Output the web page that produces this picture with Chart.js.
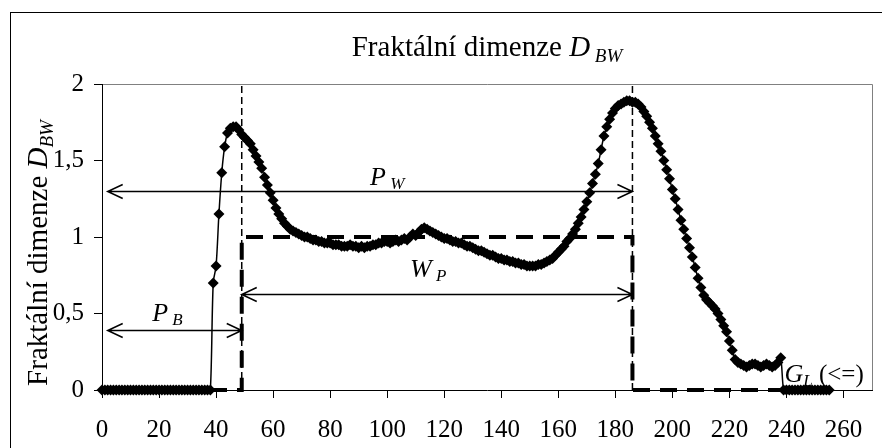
<!DOCTYPE html>
<html>
<head>
<meta charset="utf-8">
<script src="https://cdn.jsdelivr.net/npm/chart.js@4.4.0/dist/chart.umd.min.js"></script>
<style>
    html, body { margin: 0; padding: 0; background: #fff; }
    #wrap { width: 882px; height: 448px; position: relative; }
</style>
</head>
<body>
<div id="wrap"><canvas id="fdChart" width="882" height="448"></canvas></div>
<script>
// Fractal dimension D_BW for each grey level 0..255 (index = grey level)
const dbw = [
    0, 0, 0, 0, 0, 0, 0, 0, 0, 0,
    0, 0, 0, 0, 0, 0, 0, 0, 0, 0,
    0, 0, 0, 0, 0, 0, 0, 0, 0, 0,
    0, 0, 0, 0, 0, 0, 0, 0, 0, 0.70,
    0.81, 1.15, 1.42, 1.59, 1.68, 1.71, 1.72, 1.72, 1.70, 1.67,
    1.65, 1.63, 1.61, 1.57, 1.53, 1.49, 1.45, 1.39, 1.34, 1.29,
    1.24, 1.19, 1.15, 1.12, 1.09, 1.07, 1.05, 1.04, 1.03, 1.02,
    1.01, 1.00, 1.00, 0.99, 0.98, 0.98, 0.97, 0.97, 0.96, 0.96,
    0.96, 0.95, 0.95, 0.95, 0.94, 0.94, 0.94, 0.95, 0.94, 0.94,
    0.93, 0.94, 0.93, 0.94, 0.94, 0.95, 0.95, 0.96, 0.96, 0.97,
    0.97, 0.96, 0.97, 0.98, 0.97, 0.98, 0.99, 0.98, 1.00, 1.02,
    1.01, 1.03, 1.05, 1.06, 1.05, 1.04, 1.03, 1.02, 1.01, 1.00,
    0.99, 0.99, 0.98, 0.97, 0.97, 0.96, 0.96, 0.95, 0.94, 0.94,
    0.93, 0.92, 0.91, 0.91, 0.90, 0.89, 0.88, 0.88, 0.87, 0.86,
    0.86, 0.85, 0.85, 0.84, 0.84, 0.83, 0.83, 0.82, 0.82, 0.81,
    0.81, 0.81, 0.81, 0.82, 0.82, 0.83, 0.84, 0.85, 0.86, 0.88,
    0.90, 0.92, 0.94, 0.97, 0.99, 1.02, 1.05, 1.09, 1.13, 1.18,
    1.23, 1.29, 1.35, 1.41, 1.48, 1.57, 1.66, 1.72, 1.77, 1.81,
    1.84, 1.86, 1.87, 1.88, 1.89, 1.89, 1.88, 1.88, 1.87, 1.85,
    1.82, 1.79, 1.75, 1.71, 1.66, 1.61, 1.56, 1.50, 1.44, 1.38,
    1.31, 1.25, 1.18, 1.11, 1.05, 0.99, 0.93, 0.87, 0.80, 0.73,
    0.67, 0.62, 0.59, 0.57, 0.55, 0.53, 0.50, 0.46, 0.42, 0.38,
    0.32, 0.26, 0.20, 0.18, 0.17, 0.16, 0.15, 0.16, 0.17, 0.17,
    0.16, 0.15, 0.16, 0.17, 0.16, 0.15, 0.16, 0.18, 0.21, 0,
    0, 0, 0, 0, 0, 0, 0, 0, 0, 0,
    0, 0, 0, 0, 0, 0
];

// dashed step (background / object window)
const stepX = [0, 49, 49, 186, 186, 255];
const stepY = [0, 0, 1, 1, 0, 0];

// thin vertical marker lines
const markerX = [49, 186];

const xTicks = [0, 20, 40, 60, 80, 100, 120, 140, 160, 180, 200, 220, 240, 260];
const yTicks = [0, 0.5, 1, 1.5, 2];

// double arrows [from, to, y]
const arrows = [
    [2, 186, 1.3],
    [2, 49, 0.39],
    [49, 186, 0.627]
];

const SERIF = '"Liberation Serif", "Times New Roman", serif';

function fontOf(p) {
    return (p.it ? 'italic ' : '') + p.size + 'px ' + SERIF;
}

function richWidth(ctx, parts) {
    let w = 0;
    parts.forEach(p => { ctx.font = fontOf(p); w += ctx.measureText(p.t).width; });
    return w;
}

function drawRich(ctx, parts, x, y) {
    let cx = x;
    parts.forEach(p => {
        ctx.font = fontOf(p);
        ctx.fillText(p.t, cx, y + (p.dy || 0));
        cx += ctx.measureText(p.t).width;
    });
}

// annotation texts, anchored in data coordinates (left, baseline)
const notes = [
    { x: 94, y: 1.34, parts: [{ t: 'P', size: 26, it: true }, { t: ' W', size: 17, it: true, dy: 4 }] },
    { x: 108, y: 0.74, parts: [{ t: 'W', size: 26, it: true }, { t: ' P', size: 17, it: true, dy: 4 }] },
    { x: 17.6, y: 0.45, parts: [{ t: 'P', size: 26, it: true }, { t: ' B', size: 17, it: true, dy: 4 }] },
    { x: 239.3, y: 0.05, parts: [{ t: 'G', size: 26, it: true }, { t: 'L', size: 17, it: true, dy: 4 }, { t: ' (<=)', size: 25 }] }
];

const decorPlugin = {
    id: 'decor',
    beforeDraw(chart) {
        const ctx = chart.ctx;
        ctx.save();
        ctx.fillStyle = '#fff';
        ctx.fillRect(0, 0, chart.width, chart.height);
        // outer frame
        ctx.strokeStyle = '#000';
        ctx.lineWidth = 1;
        ctx.strokeRect(10.5, 12.5, 900, 500);
        // plot area frame (top/right)
        const a = chart.chartArea;
        ctx.strokeStyle = '#808080';
        ctx.beginPath();
        ctx.moveTo(a.left, a.top + 0.5);
        ctx.lineTo(a.right + 0.5, a.top + 0.5);
        ctx.lineTo(a.right + 0.5, a.bottom);
        ctx.stroke();
        ctx.restore();
    },
    afterDraw(chart) {
        const ctx = chart.ctx;
        const a = chart.chartArea;
        const sx = chart.scales.x, sy = chart.scales.y;
        ctx.save();
        ctx.fillStyle = '#000';
        ctx.strokeStyle = '#000';
        ctx.textBaseline = 'alphabetic';

        // chart title
        const title = [
            { t: 'Fraktální dimenze ', size: 29 },
            { t: 'D', size: 29, it: true },
            { t: ' BW', size: 19, it: true, dy: 6 }
        ];
        const tw = richWidth(ctx, title);
        drawRich(ctx, title, (a.left + a.right) / 2 - tw / 2, 56);

        // y axis title
        const yt = [
            { t: 'Fraktální dimenze ', size: 29 },
            { t: 'D', size: 29, it: true },
            { t: 'BW', size: 19, it: true, dy: 6 }
        ];
        const yw = richWidth(ctx, yt);
        ctx.save();
        ctx.translate(47, 253);
        ctx.rotate(-Math.PI / 2);
        drawRich(ctx, yt, -yw / 2, 0);
        ctx.restore();

        // double arrows
        ctx.lineWidth = 1.5;
        arrows.forEach(([x0, x1, yv]) => {
            const p0 = sx.getPixelForValue(x0), p1 = sx.getPixelForValue(x1);
            const py = Math.round(sy.getPixelForValue(yv)) + 0.5;
            ctx.beginPath();
            ctx.moveTo(p0, py);
            ctx.lineTo(p1, py);
            ctx.moveTo(p0 + 15, py - 7);
            ctx.lineTo(p0, py);
            ctx.lineTo(p0 + 15, py + 7);
            ctx.moveTo(p1 - 15, py - 7);
            ctx.lineTo(p1, py);
            ctx.lineTo(p1 - 15, py + 7);
            ctx.stroke();
        });

        // labels
        notes.forEach(n => {
            drawRich(ctx, n.parts, sx.getPixelForValue(n.x), sy.getPixelForValue(n.y));
        });
        ctx.restore();
    }
};

new Chart(document.getElementById('fdChart'), {
    type: 'scatter',
    data: {
        datasets: [
            {
                label: 'D_BW',
                data: dbw.map((v, i) => ({ x: i, y: v })),
                showLine: true,
                clip: false,
                borderColor: '#000',
                borderWidth: 1.5,
                tension: 0.3,
                pointStyle: 'rectRot',
                pointRadius: 5.5,
                pointBackgroundColor: '#000',
                pointBorderColor: '#000',
                pointBorderWidth: 0,
                order: 1
            },
            {
                label: 'step',
                data: stepX.map((x, i) => ({ x: x, y: stepY[i] })),
                showLine: true,
                clip: false,
                borderColor: '#000',
                borderWidth: 4,
                borderDash: [17, 10],
                pointRadius: 0,
                tension: 0,
                order: 2
            },
            ...markerX.map(x => ({
                label: 'mark' + x,
                data: [{ x: x, y: 0 }, { x: x, y: 2 }],
                showLine: true,
                borderColor: '#000',
                borderWidth: 1.5,
                borderDash: [7, 4],
                pointRadius: 0,
                order: 3
            }))
        ]
    },
    options: {
        responsive: false,
        animation: false,
        devicePixelRatio: 1,
        layout: { padding: { top: 84, right: 10, left: 0, bottom: 0 } },
        plugins: {
            legend: { display: false },
            tooltip: { enabled: false }
        },
        scales: {
            x: {
                type: 'linear',
                min: 0,
                max: 270,
                afterBuildTicks: s => { s.ticks = xTicks.map(v => ({ value: v })); },
                afterFit: s => { s.height = 58; },
                grid: { drawOnChartArea: false, drawTicks: true, tickLength: 8, color: '#000' },
                border: { color: '#000', width: 1 },
                ticks: {
                    color: '#000',
                    padding: 17,
                    maxRotation: 0,
                    autoSkip: false,
                    font: { family: SERIF, size: 25 }
                }
            },
            y: {
                min: 0,
                max: 2,
                afterBuildTicks: s => { s.ticks = yTicks.map(v => ({ value: v })); },
                afterFit: s => { s.width = 102; },
                grid: { drawOnChartArea: false, drawTicks: true, tickLength: 8, color: '#000' },
                border: { color: '#000', width: 1 },
                ticks: {
                    color: '#000',
                    padding: 10,
                    font: { family: SERIF, size: 25 },
                    callback: v => String(v).replace('.', ',')
                }
            }
        }
    },
    plugins: [decorPlugin]
});
</script>
</body>
</html>
